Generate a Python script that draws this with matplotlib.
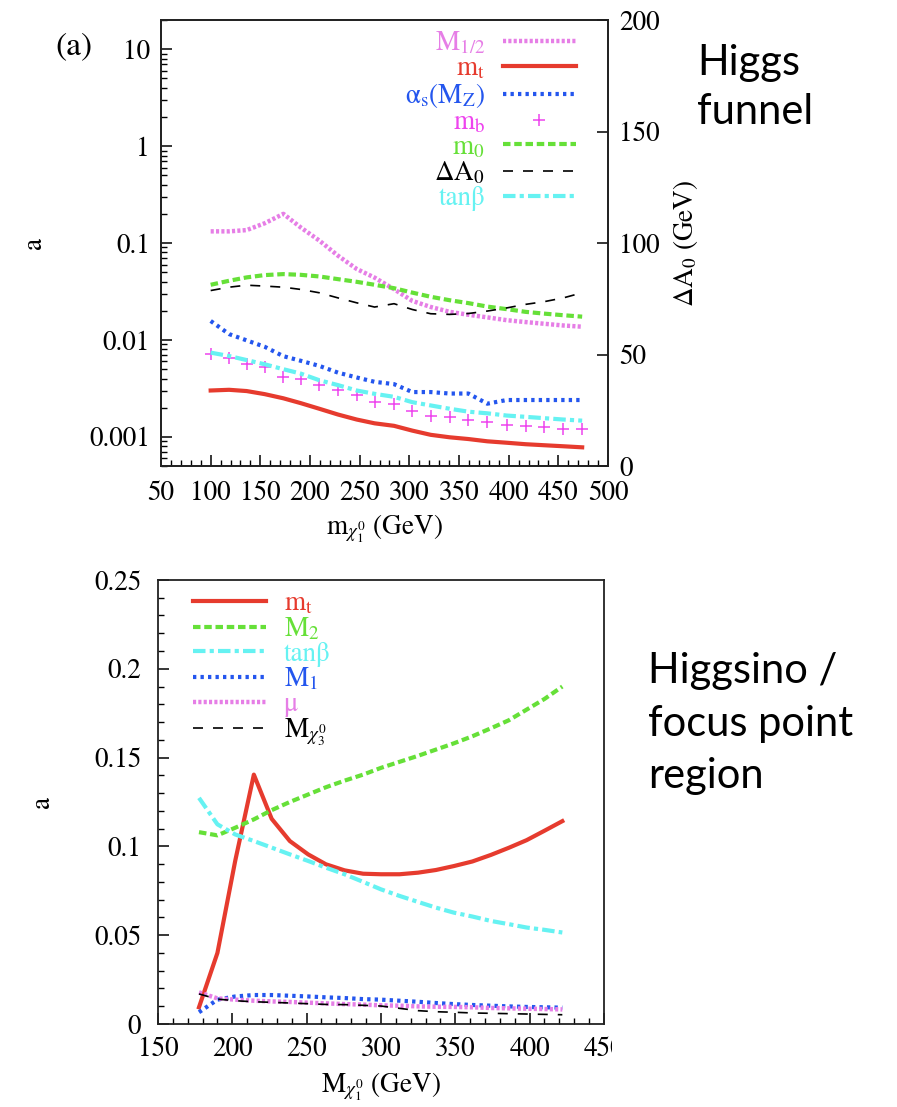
import matplotlib
matplotlib.use("Agg")
import matplotlib.pyplot as plt
from matplotlib.ticker import FixedLocator, MultipleLocator, LogLocator, NullFormatter, FuncFormatter
from matplotlib.patches import Rectangle

plt.rcParams['font.family'] = ['STIXGeneral', 'DejaVu Serif']
plt.rcParams['mathtext.fontset'] = 'stix'

# ---------------- Higgs funnel: sensitivity vs neutralino mass ----------------
mass_top = [100, 118.5, 136.2, 154.4, 173.2, 190.6, 209.4, 228.2, 247, 265, 284.6,
            303, 321.5, 340.6, 359.4, 378.5, 398, 417, 435.6, 455, 474]
a_m_half = [0.132, 0.132, 0.136, 0.160, 0.200, 0.145, 0.106, 0.074, 0.054, 0.044, 0.0334,
            0.0253, 0.0219, 0.0195, 0.0182, 0.0171, 0.0160, 0.0153, 0.0147, 0.0141, 0.0137]
a_mt_top = [0.00301, 0.00306, 0.00297, 0.00276, 0.00250, 0.00223, 0.00195, 0.00170, 0.00151,
            0.00138, 0.00130, 0.00116, 0.00105, 0.00099, 0.00095, 0.00090, 0.00087, 0.00084,
            0.00082, 0.00080, 0.00078]
a_alpha_s = [0.0157, 0.0115, 0.0099, 0.0085, 0.0068, 0.0061, 0.0054, 0.0046, 0.0041, 0.0037,
             0.0035, 0.0029, 0.0029, 0.0028, 0.0028, 0.0022, 0.0024, 0.0024, 0.0024, 0.0024, 0.0024]
a_mb = [0.00711, 0.00646, 0.00569, 0.00526, 0.00414, 0.00392, 0.00342, 0.00301, 0.00268,
        0.00230, 0.00219, 0.00184, 0.00166, 0.00160, 0.00150, 0.00143, 0.00134, 0.00129,
        0.00126, 0.00122, 0.00120]
a_m0 = [0.0371, 0.0408, 0.0442, 0.0467, 0.0478, 0.0470, 0.0452, 0.0424, 0.0398, 0.0371,
        0.0342, 0.0308, 0.0279, 0.0257, 0.0240, 0.0221, 0.0208, 0.0195, 0.0187, 0.0180, 0.0174]
delta_a0_gev = [78.7, 80.2, 81.1, 80.7, 80.2, 79.2, 77.7, 75.4, 73.2, 71.3, 72.8,
                70.2, 68.3, 68.0, 68.4, 69.5, 70.9, 72.5, 73.7, 75.4, 77.7]
a_tanb_top = [0.0074, 0.00683, 0.0062, 0.00561, 0.00499, 0.0045, 0.00384, 0.00342, 0.00301,
              0.00278, 0.00259, 0.00228, 0.00211, 0.00195, 0.00182, 0.00175, 0.00166, 0.00161,
              0.00156, 0.00151, 0.00147]
top_yticks = [0.001, 0.01, 0.1, 1, 10]
top_right_ticks = [0, 50, 100, 150, 200]
top_xticks = [50, 100, 150, 200, 250, 300, 350, 400, 450, 500]

# ---------------- Higgsino / focus point region ----------------
mass_bot = [177.6, 190, 202, 214.5, 226.5, 238.7, 251, 263, 275.5, 288, 300,
            312.5, 325, 337, 349, 361.5, 374, 386, 398, 410, 422]
b_mt = [0.0094, 0.040, 0.092, 0.1404, 0.1155, 0.103, 0.0955, 0.0899, 0.0865, 0.0846, 0.0843,
        0.0843, 0.0852, 0.0867, 0.0889, 0.0915, 0.0952, 0.0992, 0.1035, 0.1088, 0.1142]
b_M2 = [0.108, 0.1062, 0.1105, 0.1152, 0.1204, 0.125, 0.1292, 0.1333, 0.137, 0.1404, 0.1442,
        0.1476, 0.151, 0.1545, 0.158, 0.162, 0.1665, 0.171, 0.177, 0.183, 0.19]
b_tanb = [0.1273, 0.1124, 0.1067, 0.103, 0.0993, 0.0955, 0.0918, 0.088, 0.0843, 0.080, 0.0758,
          0.0721, 0.0687, 0.0655, 0.0627, 0.0605, 0.058, 0.0562, 0.0543, 0.053, 0.0515]
b_M1 = [0.0066, 0.0137, 0.0155, 0.0163, 0.0163, 0.0159, 0.0155, 0.015, 0.0146, 0.014, 0.0137,
        0.0131, 0.0125, 0.0118, 0.0112, 0.0107, 0.0103, 0.0099, 0.0096, 0.0094, 0.0092]
b_mu = [0.0178, 0.0144, 0.0137, 0.0131, 0.0127, 0.0124, 0.012, 0.0116, 0.0112, 0.0109, 0.0105,
        0.0103, 0.0099, 0.0097, 0.0096, 0.0094, 0.009, 0.0088, 0.0086, 0.0084, 0.0082]
b_mchi3 = [0.0169, 0.014, 0.0131, 0.0125, 0.0122, 0.0118, 0.0114, 0.011, 0.0109, 0.0105, 0.0101,
           0.0088, 0.0075, 0.0069, 0.0066, 0.0062, 0.006, 0.0058, 0.0056, 0.0054, 0.0052]
bot_yticks = [0, 0.05, 0.1, 0.15, 0.2, 0.25]
bot_xticks = [150, 200, 250, 300, 350, 400, 450]

# colours and line styles
RED = '#e63b2e'
GREEN = '#66e038'
CYAN = '#66f2f2'
BLUE = '#2456ee'
VIOLET = '#e67ee6'
MAGENTA = '#ee44ee'

st_violet = dict(color=VIOLET, lw=3.2, ls=(0, (0.7, 0.5)))
st_red = dict(color=RED, lw=3.0, ls='-')
st_blue = dict(color=BLUE, lw=3.0, ls=(0, (0.8, 1.0)))
st_green = dict(color=GREEN, lw=3.0, ls=(0, (1.8, 0.9)))
st_black = dict(color='black', lw=1.2, ls=(0, (6, 6)))
st_cyan = dict(color=CYAN, lw=3.0, ls=(0, (3, 1, 1, 1)))

FS = 19.5
fig = plt.figure(figsize=(8.97, 11.07), dpi=100)


def style_spines(ax):
    for s in ax.spines.values():
        s.set_linewidth(1.3)
        s.set_color('#222222')


# ---- top panel ----
ax1 = fig.add_axes([0.1795, 0.5790, 0.4983, 0.4029])
ax1.set_yscale('log')
ax1.set_xlim(50, 500)
ax1.set_ylim(5e-4, 20)
ax1r = ax1.twinx()
ax1r.set_ylim(0, 200)

h_half, = ax1.plot(mass_top, a_m_half, **st_violet, label=r'M$_{1/2}$')
h_mt, = ax1.plot(mass_top, a_mt_top, **st_red, label=r'm$_\mathrm{t}$')
h_as, = ax1.plot(mass_top, a_alpha_s, **st_blue, label=r'α$_\mathrm{s}$(M$_\mathrm{Z}$)')
h_mb, = ax1.plot(mass_top, a_mb, ls='none', marker='+', ms=9, mew=1.1, color=MAGENTA,
                 label=r'm$_\mathrm{b}$')
h_m0, = ax1.plot(mass_top, a_m0, **st_green, label=r'm$_0$')
h_da, = ax1r.plot(mass_top, delta_a0_gev, **st_black, label=r'ΔA$_0$')
h_tb, = ax1.plot(mass_top, a_tanb_top, **st_cyan, label='tanβ')

ax1.yaxis.set_major_locator(FixedLocator(top_yticks))
ax1.yaxis.set_major_formatter(FuncFormatter(lambda v, p: '%g' % v))
ax1.yaxis.set_minor_locator(LogLocator(base=10, subs=range(2, 10)))
ax1.yaxis.set_minor_formatter(NullFormatter())
ax1.xaxis.set_major_locator(FixedLocator(top_xticks))
ax1.xaxis.set_minor_locator(MultipleLocator(10))
ax1r.yaxis.set_major_locator(FixedLocator(top_right_ticks))
ax1r.yaxis.set_minor_locator(FixedLocator([]))

ax1.tick_params(which='both', direction='in', top=False, right=False, labelsize=FS)
ax1.tick_params(axis='x', pad=11)
ax1.tick_params(axis='y', pad=8)
ax1.tick_params(which='major', length=8, width=1.1)
ax1.tick_params(which='minor', length=4, width=1.0)
ax1r.tick_params(which='major', direction='in', length=8, width=1.1, labelsize=FS, pad=8)
style_spines(ax1)
style_spines(ax1r)

ax1.set_xlabel(r'm$_{\chi^0_1}$ (GeV)', fontsize=FS, labelpad=4)
ax1.set_ylabel('a', fontsize=FS, labelpad=30)
ax1r.set_ylabel(r'ΔA$_0$ (GeV)', fontsize=FS, labelpad=8)

handles_top = [h_half, h_mt, h_as, h_mb, h_m0, h_da, h_tb]
leg1 = ax1r.legend(handles=handles_top, loc='upper right', bbox_to_anchor=(0.958, 1.008),
                   frameon=False, markerfirst=False, fontsize=FS,
                   handlelength=2.7, handletextpad=0.65, labelspacing=-0.01, borderpad=0,
                   numpoints=1)
for txt, h in zip(leg1.get_texts(), handles_top):
    txt.set_color(h.get_color())

fig.text(0.062, 0.951, '(a)', fontsize=24)

# ---- bottom panel ----
ax2 = fig.add_axes([0.1761, 0.0750, 0.4972, 0.4011])
ax2.set_xlim(150, 450)
ax2.set_ylim(0, 0.25)

g_mt, = ax2.plot(mass_bot, b_mt, **st_red, label=r'm$_\mathrm{t}$')
g_M2, = ax2.plot(mass_bot, b_M2, **st_green, label=r'M$_2$')
g_tb, = ax2.plot(mass_bot, b_tanb, **st_cyan, label='tanβ')
g_M1, = ax2.plot(mass_bot, b_M1, **st_blue, label=r'M$_1$')
g_mu, = ax2.plot(mass_bot, b_mu, **st_violet, label='μ')
g_chi, = ax2.plot(mass_bot, b_mchi3, **st_black, label=r'M$_{\chi^0_3}$')

ax2.yaxis.set_major_locator(FixedLocator(bot_yticks))
ax2.yaxis.set_major_formatter(FuncFormatter(lambda v, p: '%g' % v))
ax2.yaxis.set_minor_locator(MultipleLocator(0.01))
ax2.xaxis.set_major_locator(FixedLocator(bot_xticks))
ax2.xaxis.set_minor_locator(MultipleLocator(10))
ax2.tick_params(which='both', direction='in', top=False, right=False, labelsize=FS)
ax2.tick_params(axis='x', pad=9)
ax2.tick_params(axis='y', pad=12)
ax2.tick_params(which='major', length=8, width=1.1)
ax2.tick_params(which='minor', length=4, width=1.0)
style_spines(ax2)
ax2.set_xlabel(r'M$_{\chi^0_1}$ (GeV)', fontsize=FS, labelpad=6)
ax2.set_ylabel('a', fontsize=FS, labelpad=28)

handles_bot = [g_mt, g_M2, g_tb, g_M1, g_mu, g_chi]
leg2 = ax2.legend(handles=handles_bot, loc='upper left', bbox_to_anchor=(0.048, 1.004),
                  frameon=False, fontsize=FS, handlelength=2.7, handletextpad=0.65,
                  labelspacing=-0.03, borderpad=0)
for txt, h in zip(leg2.get_texts(), handles_bot):
    txt.set_color(h.get_color())

# the right end of the bottom x axis labels is trimmed
fig.patches.append(Rectangle((0.682, 0.0), 0.05, 0.066, transform=fig.transFigure,
                             facecolor='white', edgecolor='none', zorder=10))

# region captions
fig.text(0.777, 0.960, 'Higgs\nfunnel', fontsize=30, family='Lato', va='top',
         linespacing=1.33)
fig.text(0.722, 0.411, 'Higgsino /\nfocus point\nregion', fontsize=30, family='Lato',
         va='top', linespacing=1.47)

fig.savefig('out.png', dpi=100)
